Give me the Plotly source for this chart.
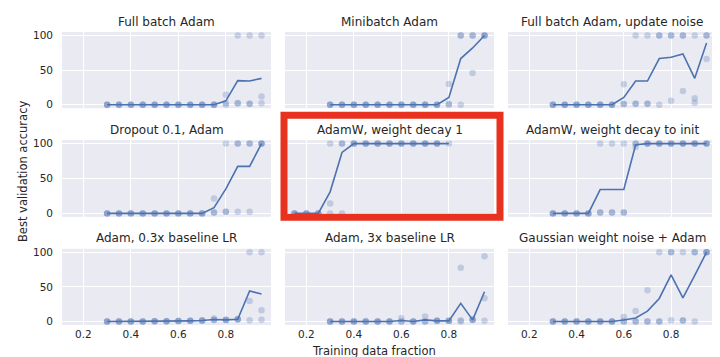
import plotly.graph_objects as go

# ---------------- data ----------------
TITLES = [
    "Full batch Adam", "Minibatch Adam", "Full batch Adam, update noise",
    "Dropout 0.1, Adam", "AdamW, weight decay 1", "AdamW, weight decay to init",
    "Adam, 0.3x baseline LR", "Adam, 3x baseline LR", "Gaussian weight noise + Adam",
]

X = [0.30, 0.35, 0.40, 0.45, 0.50, 0.55, 0.60, 0.65, 0.70, 0.75, 0.80, 0.85, 0.90, 0.95]
X_WD = [0.15, 0.20, 0.25, 0.30, 0.35, 0.40, 0.45, 0.50, 0.55, 0.60, 0.65, 0.70, 0.75, 0.80]

Z3 = [0, 0, 0]
H3 = [100, 100, 100]

full_batch_mean = [0, 0, 0, 0, 0, 0, 0, 0, 0, 0, 5.7, 34.8, 34.3, 38.1]
full_batch_runs = [Z3] * 10 + [[0, 2.5, 14.5], [100, 2, 2.5], [100, 1.5, 1.5], [100, 12, 2.3]]

minibatch_mean = [0, 0, 0, 0, 0, 0, 0, 0, 0, 0, 10.5, 66.7, 82, 100]
minibatch_runs = [Z3] * 10 + [[0, 1.5, 30], [100, 100, 0], [100, 100, 46], H3]

noise_mean = [0, 0, 0, 0, 0, 0, 10.5, 34.3, 34.3, 66.7, 68.6, 73.3, 38.1, 89]
noise_runs = [Z3] * 6 + [[29.5, 1, 1], [100, 1.5, 1.5], [100, 1.5, 1.5], [100, 100, 0],
                         [100, 100, 5.8], [100, 100, 20], [100, 9.5, 3], [100, 100, 66]]

dropout_mean = [0, 0, 0, 0, 0, 0, 0, 0, 0, 8.1, 35, 67.4, 67.4, 100]
dropout_runs = [Z3] * 9 + [[21.5, 1.5, 1], [100, 2.5, 2.5], [100, 100, 2.2], [100, 100, 2.2], H3]

wd1_mean = [0, 0, 0, 30.9, 87.4, 100, 100, 100, 100, 100, 100, 100, 100, 100]
wd1_runs = [Z3] * 3 + [[100, 14, 0], [100, 100, 0]] + [H3] * 8 + [[100]]

wdinit_mean = [0, 0, 0, 0, 34.2, 34.2, 34.2, 98.3, 100, 100, 100, 100, 100, 100]
wdinit_runs = [Z3] * 4 + [[100, 1.3, 1.3]] * 3 + [[100, 100, 95]] + [H3] * 6

lr03_mean = [0, 0, 0, 0, 0.3, 0.5, 0.7, 1.0, 1.4, 2.9, 2.4, 3.3, 44, 39.7]
lr03_runs = [Z3] * 4 + [[0.3, 0.3, 0.3], [0.5, 0.5, 0.5], [0.7, 0.7, 0.7], [1, 1, 1],
                        [1.4, 1.4, 1.4], [4.3, 2.5, 2], [3, 2.2, 2], [3.5, 3.3, 3.1],
                        [100, 29.7, 2], [100, 16.3, 2.4]]

lr3_mean = [0, 0, 0, 0, 0, 0, 1.6, 0, 2.4, 1, 1, 26.3, 2.4, 43]
lr3_runs = [Z3] * 6 + [[4.8, 0, 0], Z3, [7.2, 0, 0], [1, 1, 1], [1, 1, 1],
                       [77.5, 2, 0], [2.4, 2.4, 2.4], [94.3, 33.5, 1]]

gauss_mean = [0, 0, 0, 0, 0, 0, 2.2, 5.1, 15, 33.3, 67.3, 34.3, 66.7, 100]
gauss_runs = [Z3] * 6 + [[6.7, 0, 0], [15.3, 0, 0], [45, 0, 0], [100, 0, 0],
                         [100, 100, 2], [100, 2, 1], [100, 100, 0], H3]

PANELS = [
    (X, full_batch_mean, full_batch_runs),
    (X, minibatch_mean, minibatch_runs),
    (X, noise_mean, noise_runs),
    (X, dropout_mean, dropout_runs),
    (X_WD, wd1_mean, wd1_runs),
    (X, wdinit_mean, wdinit_runs),
    (X, lr03_mean, lr03_runs),
    (X, lr3_mean, lr3_runs),
    (X, gauss_mean, gauss_runs),
]

X_TICKS = [0.2, 0.4, 0.6, 0.8]
X_TICK_LABELS = ["0.2", "0.4", "0.6", "0.8"]
Y_TICKS = [0, 50, 100]
Y_TICK_LABELS = ["0", "50", "100"]

# ---------------- layout geometry ----------------
W, H = 720, 357
ML, MR, MT, MB = 54, 12, 23.5, 39.5
PW, PH = W - ML - MR, H - MT - MB


def px_x(p):
    return (p - ML) / PW


def px_y(p):
    return 1 - (p - MT) / PH


COLS = [(54, 263), (277, 486), (500, 708)]
ROWS = [(23.5, 100), (132, 209), (241, 317.5)]

BLUE = "#4C72B0"
DOT = "rgba(76,114,176,0.27)"
TEXT = "#262626"
FONT = "DejaVu Sans"

fig = go.Figure()
layout = dict(
    width=W, height=H,
    margin=dict(l=ML, r=MR, t=MT, b=MB, pad=0),
    paper_bgcolor="white",
    plot_bgcolor="#EAEAF2",
    showlegend=False,
    font=dict(family=FONT, color=TEXT, size=10),
)
annotations = []

for i, (xs, mean, runs) in enumerate(PANELS):
    r, c = divmod(i, 3)
    n = i + 1
    xa = "x" if n == 1 else f"x{n}"
    ya = "y" if n == 1 else f"y{n}"
    sx = [xv for xv, vals in zip(xs, runs) for _ in vals]
    sy = [v for vals in runs for v in vals]
    fig.add_trace(go.Scatter(x=sx, y=sy, mode="markers", xaxis=xa, yaxis=ya,
                             marker=dict(size=6.5, color=DOT, line=dict(width=0)),
                             hoverinfo="skip"))
    fig.add_trace(go.Scatter(x=xs, y=mean, mode="lines", xaxis=xa, yaxis=ya,
                             line=dict(color=BLUE, width=1.6)))
    x0, x1 = COLS[c]
    y0, y1 = ROWS[r]
    layout[f"xaxis{'' if n == 1 else n}"] = dict(
        domain=[px_x(x0), px_x(x1)], anchor=ya, range=[0.11, 0.99],
        tickvals=X_TICKS, ticktext=X_TICK_LABELS, showticklabels=(r == 2),
        showgrid=True, gridcolor="white", gridwidth=1.2, zeroline=False,
        showline=False, ticks="", ticklabelstandoff=1,
        tickfont=dict(size=10.5, color=TEXT, family=FONT),
    )
    layout[f"yaxis{'' if n == 1 else n}"] = dict(
        domain=[px_y(y1), px_y(y0)], anchor=xa, range=[-5, 105],
        tickvals=Y_TICKS, ticktext=Y_TICK_LABELS, showticklabels=(c == 0),
        showgrid=True, gridcolor="white", gridwidth=1.2, zeroline=False,
        showline=False, ticks="", ticklabelstandoff=8,
        tickfont=dict(size=10.5, color=TEXT, family=FONT),
    )
    annotations.append(dict(
        text=TITLES[i], xref="paper", yref="paper",
        x=px_x((x0 + x1) / 2), y=px_y(y0 - 10.5), xanchor="center", yanchor="middle",
        showarrow=False, font=dict(size=12, color=TEXT, family=FONT),
    ))

annotations.append(dict(
    text="Best validation accuracy", xref="paper", yref="paper",
    x=px_x(15), y=px_y(164), textangle=-90, xanchor="center", yanchor="middle",
    showarrow=False, font=dict(size=11.5, color=TEXT, family=FONT),
))
annotations.append(dict(
    text="Training data fraction", xref="paper", yref="paper",
    x=px_x(366), y=px_y(335), xanchor="center", yanchor="top",
    showarrow=False, font=dict(size=11.5, color=TEXT, family=FONT),
))

layout["annotations"] = annotations
layout["shapes"] = [dict(
    type="rect", xref="paper", yref="paper",
    x0=px_x(276), x1=px_x(492), y0=px_y(209.5), y1=px_y(107),
    line=dict(color="#E8321F", width=7), fillcolor="rgba(0,0,0,0)", layer="above",
)]

fig.update_layout(**layout)
fig.write_html("out.html")
